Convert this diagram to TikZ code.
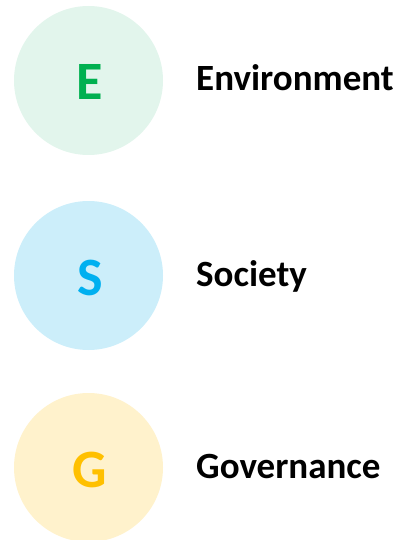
\documentclass[tikz,border=0pt]{standalone}
\usepackage{fontspec}
\setmainfont{Carlito}
\definecolor{eFill}{HTML}{E2F5EC}
\definecolor{sFill}{HTML}{CCEEFA}
\definecolor{gFill}{HTML}{FFF2CC}
\definecolor{eInk}{HTML}{00B050}
\definecolor{sInk}{HTML}{00B0F0}
\definecolor{gInk}{HTML}{FFC000}
\begin{document}
\begin{tikzpicture}[x=1pt,y=-1pt,
  disc/.style={circle,minimum size=149pt,inner sep=0pt,draw=none},
  letter/.style={anchor=base,inner sep=0pt,font=\fontsize{54}{60}\selectfont\bfseries},
  label/.style={anchor=base west,inner sep=0pt,font=\fontsize{37}{41}\selectfont\bfseries,text=black}]
\useasboundingbox (0,0) rectangle (399,540);
\node[disc,fill=eFill] (ce) at (88.5,80.5) {};
\node[disc,fill=sFill] (cs) at (88.5,275.5) {};
\node[disc,fill=gFill] (cg) at (88.5,467.5) {};
\node[letter,text=eInk] (le) at (90,100) {E};
\node[letter,text=sInk] (ls) at (90,295) {S};
\node[letter,text=gInk] (lg) at (89.5,487) {G};
\node[label] (te) at (196,91) {Environment};
\node[label] (ts) at (196,286) {Society};
\node[label] (tg) at (196,478) {Governance};
\end{tikzpicture}
\end{document}
